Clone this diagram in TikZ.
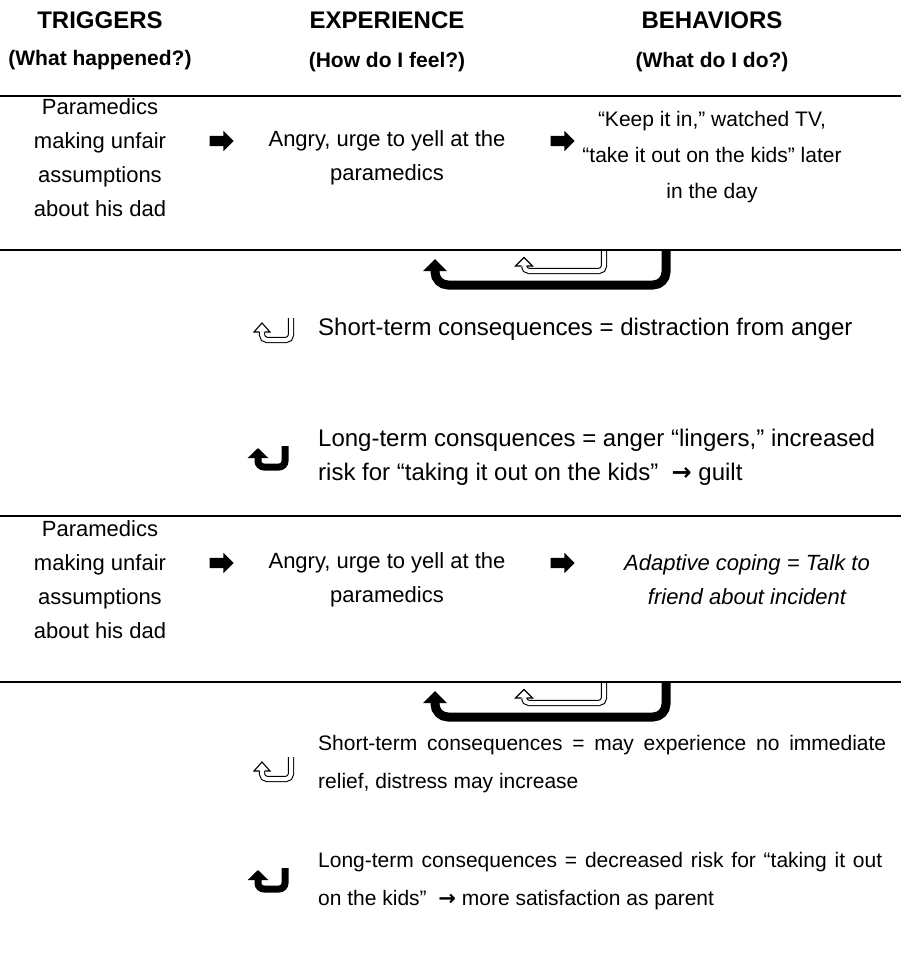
\documentclass[tikz,border=0pt]{standalone}
\usepackage{fontspec}
\setmainfont{Liberation Sans}
\newfontfamily\arrowfont{DejaVu Sans}
\usetikzlibrary{shapes.arrows, arrows.meta}
% a line whose word spaces are stretched out to the given width
\newcommand\stretchline[2]{\makebox[#1][s]{#2}}
\newcommand\rarr{{\arrowfont\bfseries →}}
\begin{document}
\begin{tikzpicture}[x=1pt, y=-1pt,
  colhead/.style={font=\fontsize{24}{28}\selectfont\bfseries, inner sep=0},
  colsub/.style={font=\fontsize{21}{24}\selectfont\bfseries, inner sep=0},
  cell/.style={font=\fontsize{22}{34}\selectfont, align=center, inner sep=0},
  cons/.style={font=\fontsize{24}{34}\selectfont, align=left, anchor=west, inner sep=0},
  conswide/.style={font=\fontsize{21}{38.5}\selectfont, align=left, anchor=west, inner sep=0},
  rule/.style={line width=1.1pt},
  blockarrow/.style={single arrow, fill=black, draw=none, inner xsep=0pt, inner ysep=5pt,
    minimum width=0pt, minimum height=24pt, single arrow head extend=5pt, outer sep=0pt},
  bigturn/.style={line width=9pt, rounded corners=13pt, -{Triangle[width=23pt, length=12pt]}},
  hollowline/.style={line width=1.1pt, double=white, double distance=4pt, rounded corners=5pt},
  hollowicon/.pic={
    \draw[hollowline] (19,-13) |- (-10,9) -- (-10,1);
    \fill[white] (-18,1) -- (-10,-8) -- (-2,1) -- cycle;
    \draw[line width=1.1pt] (-12.5,1) -- (-18,1) -- (-10,-8) -- (-2,1) -- (-7.5,1);
  },
  solidicon/.pic={
    \draw[line width=7pt, rounded corners=6pt, -{Triangle[width=20pt, length=10pt]}] (14,-12) |- (-13,9) -- (-13,-10);
  }
]
\useasboundingbox (0,0) rectangle (901,955);

% column headings
\node[colhead] (hT) at (100,20) {TRIGGERS};
\node[colhead] (hE) at (387,20) {EXPERIENCE};
\node[colhead] (hB) at (712,20) {BEHAVIORS};
\node[colsub] (sT) at (100,60) {(What happened?)};
\node[colsub] (sE) at (387,62) {(How do I feel?)};
\node[colsub] (sB) at (712,62) {(What do I do?)};

% horizontal rules
\draw[rule] (0,96) -- (901,96);
\draw[rule] (0,250) -- (901,250);
\draw[rule] (0,516) -- (901,516);
\draw[rule] (0,682) -- (901,682);

% first chain
\node[cell] (t1) at (100,158) {Paramedics\\making unfair\\assumptions\\about his dad};
\node[blockarrow] (a1) at (219,141) {};
\node[cell] (e1) at (387,158) {Angry, urge to yell at the\\paramedics};
\node[blockarrow] (a2) at (560,141) {};
\node[cell, font=\fontsize{21}{36}\selectfont] (b1) at (712,157) {“Keep it in,” watched TV,\\“take it out on the kids” later\\in the day};

\coordinate (r1s) at (666,251);
\coordinate (r1e) at (435,259);
\draw[bigturn] (r1s) |- (435,285) -- (r1e);
\coordinate (q1s) at (604,251);
\draw[hollowline] (q1s) |- (524,271) -- (524,266);
\fill[white] (515.5,266) -- (524,257.5) -- (532.5,266) -- cycle;
\draw[line width=1.1pt] (521.5,266) -- (515.5,266) -- (524,257.5) -- (532.5,266) -- (526.5,266);

\pic at (272,331) {hollowicon};
\node[cons] (c1) at (318,329) {Short-term consequences = distraction from anger};
\pic at (271,458) {solidicon};
\node[cons] (c2) at (318,457) {Long-term consquences = anger “lingers,” increased\\risk for “taking it out on the kids”\ \ \rarr\ guilt};

% second chain
\node[cell] (t2) at (100,580) {Paramedics\\making unfair\\assumptions\\about his dad};
\node[blockarrow] (a3) at (219,563) {};
\node[cell] (e2) at (387,580) {Angry, urge to yell at the\\paramedics};
\node[blockarrow] (a4) at (560,563) {};
\node[cell, font=\fontsize{22}{34}\selectfont\itshape] (b2) at (747,580) {Adaptive coping = Talk to\\friend about incident};

\coordinate (r2s) at (666,683);
\coordinate (r2e) at (435,691);
\draw[bigturn] (r2s) |- (435,717) -- (r2e);
\coordinate (q2s) at (604,683);
\draw[hollowline] (q2s) |- (524,703) -- (524,698);
\fill[white] (515.5,698) -- (524,689.5) -- (532.5,698) -- cycle;
\draw[line width=1.1pt] (521.5,698) -- (515.5,698) -- (524,689.5) -- (532.5,698) -- (526.5,698);

\pic at (272,770) {hollowicon};
\node[conswide] (c3) at (318,764) {\stretchline{568pt}{Short-term consequences = may experience no immediate}\\relief, distress may increase};
\pic at (271,880) {solidicon};
\node[conswide] (c4) at (318,881) {\stretchline{564pt}{Long-term consequences = decreased risk for “taking it out}\\on the kids”\ \ \rarr\ more satisfaction as parent};
\end{tikzpicture}
\end{document}
